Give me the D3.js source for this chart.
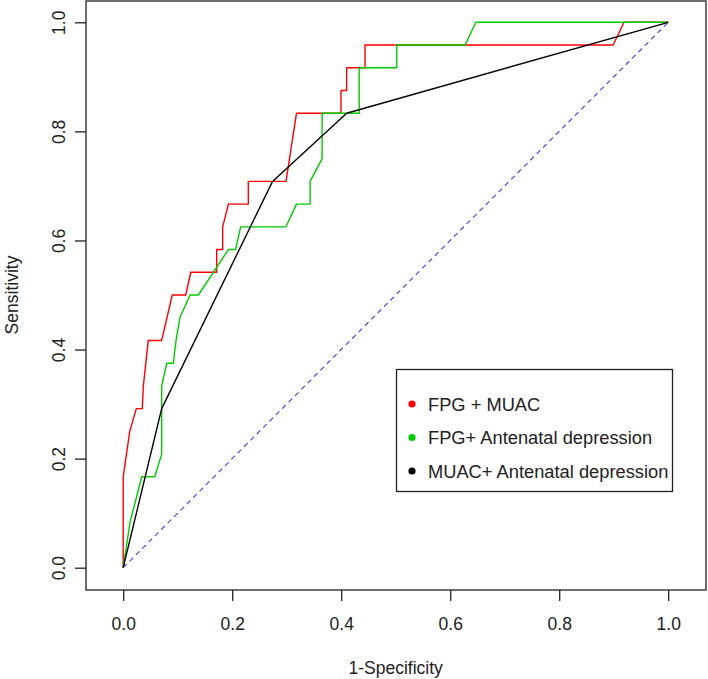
<!DOCTYPE html>
<html>
<head>
<meta charset="utf-8">
<script src="https://cdn.jsdelivr.net/npm/d3@7"></script>
<style>
  body { margin: 0; background: #fff; }
  text { font-family: "Liberation Sans", Arial, sans-serif; fill: #222; }
</style>
</head>
<body>
<div id="visContainer"></div>
<script>
// ROC curves: [1-specificity, sensitivity]
const fpgMuac = [
    [0, 0], [0, 0.1667], [0.012, 0.25], [0.024, 0.2917], [0.035, 0.2917], [0.037, 0.3333],
    [0.046, 0.4167], [0.0706, 0.4167], [0.09, 0.5], [0.1147, 0.5], [0.124, 0.5417],
    [0.1715, 0.5417], [0.1715, 0.5833], [0.1825, 0.5833], [0.1825, 0.625], [0.193, 0.6667],
    [0.2296, 0.6667], [0.2296, 0.7083], [0.2987, 0.7083], [0.318, 0.8333], [0.3996, 0.8333],
    [0.3996, 0.875], [0.41, 0.875], [0.41, 0.9167], [0.4437, 0.9167], [0.4437, 0.9583],
    [0.899, 0.9583], [0.919, 1], [1, 1]
];
const fpgDepression = [
    [0, 0], [0.0125, 0.0833], [0.034, 0.1667], [0.058, 0.1667], [0.0706, 0.2083],
    [0.0706, 0.3333], [0.08, 0.375], [0.092, 0.375], [0.097, 0.4167], [0.104, 0.4583],
    [0.1226, 0.5], [0.138, 0.5], [0.193, 0.5833], [0.206, 0.5833], [0.2156, 0.625],
    [0.2987, 0.625], [0.318, 0.6667], [0.343, 0.6667], [0.343, 0.7083], [0.365, 0.75],
    [0.365, 0.8333], [0.433, 0.8333], [0.433, 0.9167], [0.502, 0.9167], [0.502, 0.9583],
    [0.6275, 0.9583], [0.647, 1], [1, 1]
];
const muacDepression = [[0, 0], [0.0706, 0.2917], [0.274, 0.7083], [0.41, 0.8333], [1, 1]];
const chance = [[0, 0], [1, 1]];

const seriesNames = ["FPG + MUAC", "FPG+ Antenatal depression", "MUAC+ Antenatal depression"];
const seriesColors = ["#ff0000", "#00cd00", "#000000"];
const ticks = [0, 0.2, 0.4, 0.6, 0.8, 1.0];

function renderChart() {
    const width = 708, height = 679;
    const box = { left: 86, top: 1, right: 706, bottom: 590 };
    const fontSize = "17.5px";

    const x = d3.scaleLinear().domain([0, 1]).range([123.2, 668.2]);
    const y = d3.scaleLinear().domain([0, 1]).range([567.7, 22.3]);

    const svg = d3.select("#visContainer").append("svg")
        .attr("width", width)
        .attr("height", height)
        .style("display", "block");

    // plot frame
    svg.append("rect")
        .attr("x", box.left).attr("y", box.top)
        .attr("width", box.right - box.left).attr("height", box.bottom - box.top)
        .attr("fill", "none").attr("stroke", "#222").attr("stroke-width", 1.3);

    // x axis
    const xAxis = svg.append("g").attr("transform", `translate(0,${box.bottom})`)
        .call(d3.axisBottom(x).tickValues(ticks).tickFormat(d3.format(".1f"))
            .tickSize(11).tickPadding(17));
    xAxis.select(".domain").remove();
    xAxis.selectAll("line").attr("stroke", "#222").attr("stroke-width", 1.3);
    xAxis.selectAll("text").style("font-size", fontSize).attr("fill", "#222");

    // y axis
    const yAxis = svg.append("g").attr("transform", `translate(${box.left},0)`)
        .call(d3.axisLeft(y).tickValues(ticks).tickFormat(d3.format(".1f")).tickSize(11));
    yAxis.select(".domain").remove();
    yAxis.selectAll("line").attr("stroke", "#222").attr("stroke-width", 1.3);
    yAxis.selectAll("text")
        .style("font-size", fontSize).attr("fill", "#222")
        .attr("x", null).attr("dy", null)
        .attr("text-anchor", "middle")
        .attr("transform", "translate(-27,0) rotate(-90) translate(0,6)");

    // axis titles
    svg.append("text")
        .attr("x", x(0.5)).attr("y", 674)
        .attr("text-anchor", "middle").style("font-size", fontSize)
        .text("1-Specificity");
    svg.append("text")
        .attr("transform", `translate(18,${y(0.5)}) rotate(-90)`)
        .attr("text-anchor", "middle").style("font-size", fontSize)
        .text("Sensitivity");

    const line = d3.line().x(d => x(d[0])).y(d => y(d[1]));

    // chance diagonal
    svg.append("path")
        .datum(chance)
        .attr("d", line)
        .attr("fill", "none")
        .attr("stroke", "#3b3bff")
        .attr("stroke-width", 1.1)
        .attr("stroke-dasharray", "5,4");

    const curves = [fpgMuac, fpgDepression, muacDepression];
    svg.append("g")
        .selectAll("path")
        .data(curves)
        .join("path")
        .attr("d", line)
        .attr("fill", "none")
        .attr("stroke", (d, i) => seriesColors[i])
        .attr("stroke-width", 1.4)
        .attr("stroke-linejoin", "round");

    // legend
    const legend = svg.append("g");
    legend.append("rect")
        .attr("x", 396.5).attr("y", 369.5)
        .attr("width", 276).attr("height", 122)
        .attr("fill", "#fff").attr("stroke", "#222").attr("stroke-width", 1.3);
    const item = legend.selectAll("g.item")
        .data(seriesNames)
        .join("g")
        .attr("class", "item")
        .attr("transform", (d, i) => `translate(0,${404 + i * 33.5})`);
    item.append("circle")
        .attr("cx", 412).attr("cy", 0).attr("r", 3.6)
        .attr("fill", (d, i) => seriesColors[i]);
    item.append("text")
        .attr("x", 428).attr("y", 6.5)
        .style("font-size", "18.3px")
        .text(d => d);
}

renderChart();
</script>
</body>
</html>
